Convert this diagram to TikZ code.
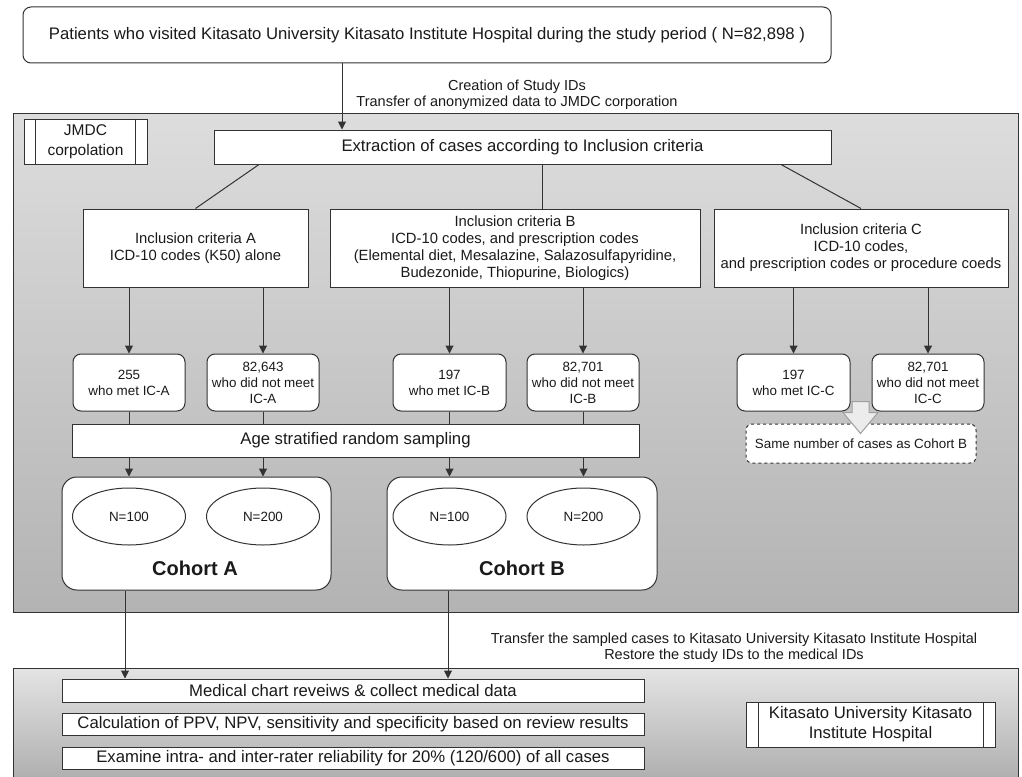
\documentclass[tikz,border=0pt]{standalone}
\usepackage{fontspec}
\setmainfont{Liberation Sans}
\usetikzlibrary{arrows.meta,calc,shapes.geometric}
\definecolor{lc}{HTML}{333333}
\definecolor{tc}{HTML}{1A1A1A}
\definecolor{pTopA}{HTML}{DDDDDD}
\definecolor{pBotA}{HTML}{B3B3B3}
\definecolor{pTopB}{HTML}{E4E4E4}
\definecolor{pBotB}{HTML}{A6A6A6}
\definecolor{blk}{HTML}{ECECEC}
\definecolor{blkd}{HTML}{A0A0A0}
\newcommand\fmain{\fontsize{16.7}{20}\selectfont}
\newcommand\fsml{\fontsize{14.5}{16}\selectfont}
\newcommand\fic{\fontsize{14.8}{17}\selectfont}
\newcommand\fnum{\fontsize{13.4}{16}\selectfont}
\newcommand\fcoh{\fontsize{20}{24}\selectfont\bfseries}
\begin{document}
\begin{tikzpicture}[x=1pt,y=-1pt,
  box/.style={draw=lc, fill=white, line width=1pt, align=center, inner sep=0pt, text=tc},
  rbox/.style={box, rounded corners=8pt},
  smallbox/.style={rbox, minimum width=112pt, minimum height=57pt, font=\fnum},
  icbox/.style={box, minimum height=78pt, font=\fic},
  oval/.style={ellipse, draw=lc, fill=white, line width=1pt, minimum width=113pt, minimum height=57pt, inner sep=0pt, font=\fnum, text=tc},
  cohort/.style={box, rounded corners=15pt, minimum width=270pt, minimum height=113pt},
  wide/.style={box, minimum width=582pt, font=\fmain},
  procbox/.style={box, minimum height=45pt},
  panel/.style={draw=lc, line width=1pt, inner sep=0pt},
  arr/.style={-{Triangle[width=8pt,length=8pt]}, draw=lc, line width=1pt},
  ln/.style={draw=lc, line width=1pt},
  lbl/.style={align=center, text=tc, inner sep=0pt}]
\useasboundingbox (0,0) rectangle (1022,776);
\fill[white] (0,0) rectangle (1022,776);

% panels
\node[panel, top color=pTopA, bottom color=pBotA, minimum width=1005pt, minimum height=499pt] (jmdc) at (515.5,362.5) {};
\node[panel, top color=pTopB, bottom color=pBotB, minimum width=1005pt, minimum height=130pt] (kit) at (515.5,733) {};

% top
\node[rbox, minimum width=808pt, minimum height=56pt, font=\fmain] (top) at (427,35) {Patients who visited Kitasato University Kitasato Institute Hospital during the study period ( N=82,898 )};
\node[lbl, font=\fsml] (lblA) at (517,95) {Creation of Study IDs\\Transfer of anonymized data to JMDC corporation};

% JMDC label
\node[procbox, minimum width=123pt, font=\fontsize{15.5}{20}\selectfont] (jlab) at (85.5,141.5) {JMDC\\corpolation};
\draw[ln] ($(jlab.north west)+(12,0)$) -- ($(jlab.south west)+(12,0)$);
\draw[ln] ($(jlab.north east)+(-12,0)$) -- ($(jlab.south east)+(-12,0)$);

% extraction
\node[box, minimum width=617pt, minimum height=34pt, font=\fmain] (ext) at (522.5,147) {Extraction of cases according to Inclusion criteria};

% inclusion criteria
\node[icbox, minimum width=225pt] (icA) at (195.5,248) {Inclusion criteria A\\ICD-10 codes (K50) alone};
\node[icbox, minimum width=370pt] (icB) at (515,248) {Inclusion criteria B\\ICD-10 codes, and prescription codes\\(Elemental diet, Mesalazine, Salazosulfapyridine,\\Budezonide, Thiopurine, Biologics)};
\node[icbox, minimum width=294pt] (icC) at (861,248) {Inclusion criteria C\\ICD-10 codes,\\and prescription codes or procedure coeds};

% counts
\node[smallbox] (a1) at (129,382.5) {255\\who met IC-A};
\node[smallbox] (a2) at (263,382.5) {82,643\\who did not meet\\IC-A};
\node[smallbox, minimum width=113pt] (b1) at (449.5,382.5) {197\\who met IC-B};
\node[smallbox] (b2) at (583,382.5) {82,701\\who did not meet\\IC-B};
\node[smallbox, minimum width=113pt] (c1) at (793.5,382.5) {197\\who met IC-C};
\node[smallbox] (c2) at (928,382.5) {82,701\\who did not meet\\IC-C};

% age sampling
\node[box, minimum width=567pt, minimum height=33pt, font=\fmain] (age) at (355.5,440.5) {Age stratified random sampling};

% same number
\node[rbox, dashed, rounded corners=6pt, minimum width=230pt, minimum height=39pt, font=\fnum] (same) at (861,443.5) {Same number of cases as Cohort B};

% cohorts
\node[cohort, minimum width=269pt] (cohA) at (196.5,533.5) {};
\node[cohort] (cohB) at (522,533.5) {};
\node[oval] (eA1) at (129,516.5) {N=100};
\node[oval] (eA2) at (263,516.5) {N=200};
\node[oval] (eB1) at (449.5,516.5) {N=100};
\node[oval] (eB2) at (583.5,516.5) {N=200};
\node[lbl, font=\fcoh] (tA) at (195,568) {Cohort A};
\node[lbl, font=\fcoh] (tB) at (522,568) {Cohort B};

% bottom boxes
\node[wide, minimum height=23pt] (m1) at (353,690.5) {Medical chart reveiws \& collect medical data};
\node[wide, minimum height=22pt] (m2) at (353,724) {Calculation of PPV, NPV, sensitivity and specificity based on review results};
\node[wide, minimum height=22pt] (m3) at (353,758) {Examine intra- and inter-rater reliability for 20\% (120/600) of all cases};
\node[lbl, font=\fsml] (lblB) at (734,647.5) {Transfer the sampled cases to Kitasato University Kitasato Institute Hospital\\Restore the study IDs to the medical IDs};

\node[procbox, minimum width=249pt, font=\fontsize{16.7}{20}\selectfont] (klab) at (870.5,724.5) {Kitasato University Kitasato\\Institute Hospital};
\draw[ln] ($(klab.north west)+(13,0)$) -- ($(klab.south west)+(13,0)$);
\draw[ln] ($(klab.north east)+(-12,0)$) -- ($(klab.south east)+(-12,0)$);

% connectors
\coordinate (x1) at (342,0);
\coordinate (x2) at (259,0);
\coordinate (x3) at (542,0);
\coordinate (x4) at (781,0);
\coordinate (x5) at (125,0);
\coordinate (x6) at (448,0);
\draw[arr] (top.south -| x1) -- (ext.north -| x1);
\draw[ln] (ext.south -| x2) -- (icA.north);
\draw[ln] (ext.south -| x3) -- (icB.north -| x3);
\draw[ln] (ext.south -| x4) -- (icC.north);
\foreach \s/\t in {icA/a1, icA/a2, icB/b1, icB/b2, icC/c1, icC/c2}
  \draw[arr] (\s.south -| \t.north) -- (\t.north);
\foreach \t in {a1,a2,b1,b2}
  \draw[ln] (\t.south) -- (age.north -| \t.south);
\draw[arr] (age.south -| eA1.north) -- (cohA.north -| eA1.north);
\draw[arr] (age.south -| eA2.north) -- (cohA.north -| eA2.north);
\draw[arr] (age.south -| eB1.north) -- (cohB.north -| eB1.north);
\draw[arr] (age.south -| eB2.north) -- (cohB.north -| eB2.north);
\draw[arr] (cohA.south -| x5) -- (m1.north -| x5);
\draw[arr] (cohB.south -| x6) -- (m1.north -| x6);

% block arrow from c1 to same
\coordinate (bt) at ($(same.north)+(-0.5,10)$);
\draw[fill=blk, draw=blkd, line width=1pt]
  (bt) -- ++(-17.5,-21) -- ++(9,0) -- ++(0,-11) -- ++(17,0) -- ++(0,11) -- ++(9,0) -- cycle;
\end{tikzpicture}
\end{document}
